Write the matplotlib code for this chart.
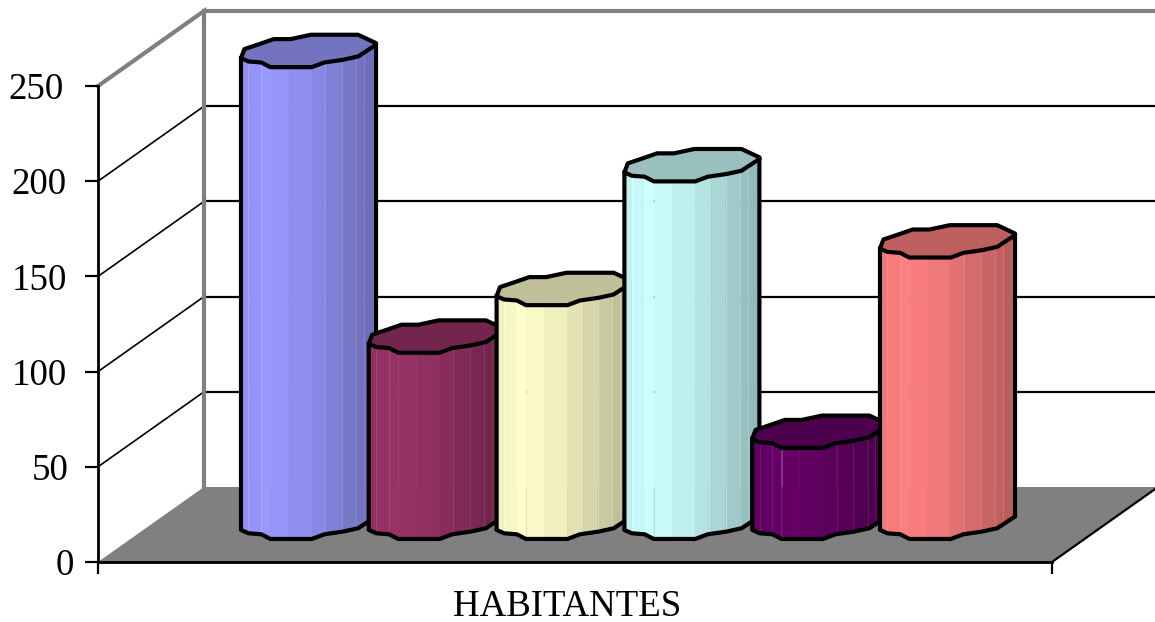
import numpy as np
import matplotlib
matplotlib.use('Agg')
import matplotlib.pyplot as plt
from matplotlib.patches import Polygon
from matplotlib.colors import to_rgb

# data
series_values = [250, 100, 125, 190, 50, 150]
series_colors = ['#9999FF', '#993366', '#FFFFCC', '#CCFFFF', '#660066', '#FF8080']
y_ticks = [0, 50, 100, 150, 200, 250]
y_labels = ['0', '50', '100', '150', '200', '250']
category = 'HABITANTES'

plt.rcParams['font.family'] = ['Liberation Serif', 'DejaVu Serif']

W, H = 1155, 622
fig = plt.figure(figsize=(W / 100, H / 100), dpi=100)
ax = fig.add_axes([98 / W, 60 / H, 954 / W, 476 / H])
ax.set_xlim(0, 6)
ax.set_ylim(0, 250)

# depth of the fake 3d box, in data units
dx = 106 / 159.0
dy = 75 / 1.904

# floor
ax.add_patch(Polygon([(0, 0), (dx, dy), (6 + dx, dy), (6, 0)], closed=True,
                     fc='#808080', ec='none', clip_on=False, zorder=1))
ax.plot([6, 6 + dx], [0, dy], color='black', lw=1.6, clip_on=False, zorder=1.5)

# walls
for v in y_ticks[1:-1]:
    ax.plot([0, dx], [v, v + dy], color='black', lw=1.2, clip_on=False, zorder=1.2)
    ax.plot([dx, 6 + dx], [v + dy, v + dy], color='black', lw=1.6, clip_on=False, zorder=1.2)
ax.plot([0, dx, dx], [250, 250 + dy, dy], color='#808080', lw=3, clip_on=False, zorder=1.3,
        solid_joinstyle='miter')
ax.plot([dx, 6 + dx], [250 + dy, 250 + dy], color='#808080', lw=3, clip_on=False, zorder=1.3)

# outline of the polygon cylinder, unit coordinates
low_u = np.array([-1, -.89, -.70, -.565, .05, .235, .51, .735, 1.0])
low_v = np.array([-.44, -.64, -.70, -.98, -.98, -.70, -.54, -.34, .36])
up_u = np.array([1.0, .735, .035, -.265, -.515, -.715, -.95])
up_v = np.array([.46, .96, .96, .70, .70, .42, .10])
facets = np.array([-1, -.89, -.70, -.565, -.30, .05, .25, .50, .71, .825, .96, 1.0])
light_lines = [-.89, -.70, .25, .50, .71, .825, .96]


def shade(u):
    return np.interp(u, [-1, -.6, 0, 1], [.94, 1.0, .92, .70])


half_w = 67.5 / 159.0
half_h = 16.7 / 1.904
spacing = 127.8 / 159.0

for i, (val, col) in enumerate(zip(series_values, series_colors)):
    xc = 3 + dx / 2 + (i - 2.5) * spacing
    base = dy / 2 + 1.0
    top = dy / 2 + val - 1.2
    rgb = np.array(to_rgb(col))
    z = 3 + i  # later bars sit over the one on their left

    for a, b in zip(facets[:-1], facets[1:]):
        fc = rgb * shade((a + b) / 2)
        xs = xc + np.array([a, b, b, a]) * half_w
        va, vb = np.interp([a, b], low_u, low_v)
        ys = [top + va * half_h, top + vb * half_h, base + vb * half_h, base + va * half_h]
        ax.add_patch(Polygon(np.column_stack([xs, ys]), closed=True, fc=fc, ec=fc, lw=0.4,
                             clip_on=False, zorder=z))
    for u in light_lines:
        v = np.interp(u, low_u, low_v)
        ax.plot([xc + u * half_w] * 2, [top + v * half_h, base + v * half_h],
                color=np.minimum(rgb * shade(u) + .10, 1), lw=0.5, clip_on=False, zorder=z)

    # tapa
    tx = xc + np.r_[low_u, up_u] * half_w
    ty = top + np.r_[low_v, up_v] * half_h
    ax.add_patch(Polygon(np.column_stack([tx, ty]), closed=True, fc=rgb * .75, ec='black',
                         lw=3, joinstyle='round', clip_on=False, zorder=z))
    # contorno del cuerpo
    bx = xc + np.r_[-1, low_u, 1] * half_w
    by = np.r_[top + low_v[0] * half_h, base + low_v * half_h, top + low_v[-1] * half_h]
    ax.plot(bx, by, color='black', lw=3, solid_joinstyle='round', clip_on=False, zorder=z)

# axes
for s in ['top', 'right']:
    ax.spines[s].set_visible(False)
ax.spines['left'].set_linewidth(2)
ax.spines['bottom'].set_linewidth(2)
ax.patch.set_visible(False)
ax.set_yticks(y_ticks)
ax.set_yticklabels(y_labels)
ax.tick_params(axis='y', length=9.4, width=1.6, labelsize=26.6, pad=15)
ax.set_xticks([0, 6])
ax.set_xticklabels(['', ''])
ax.tick_params(axis='x', length=8.6, width=1.6)
for t, p in zip(ax.yaxis.get_major_ticks(), [8, 12, 13, 13, 13, 15]):
    t.set_pad(p)
ax.set_xlabel(category, fontsize=26.6, labelpad=8)
ax.xaxis.label.set_x(0.4916)

fig.savefig('out.png', dpi=100)
